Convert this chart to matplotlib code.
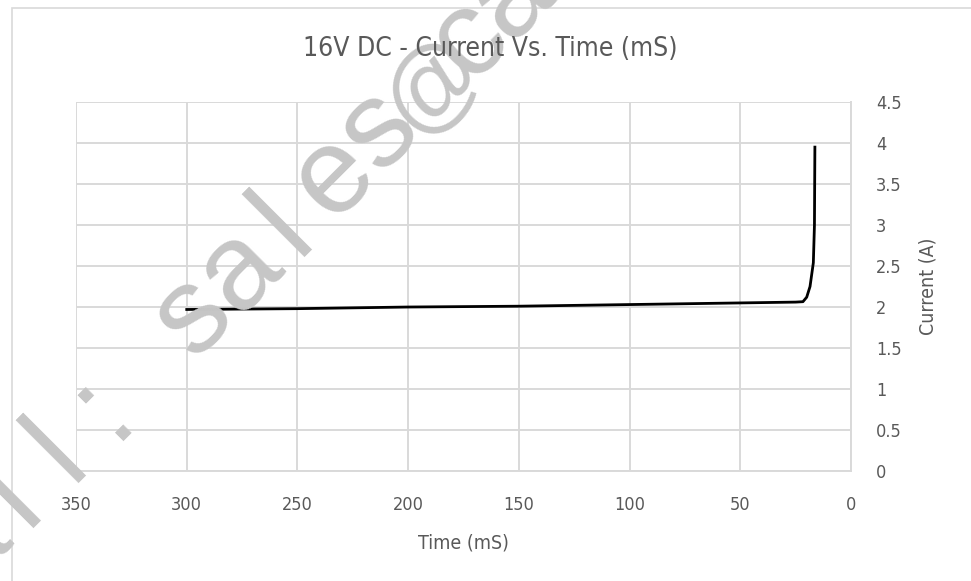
import numpy as np
import matplotlib.pyplot as plt
from matplotlib.patches import Rectangle

# time (mS) and current (A)
time_ms = [300, 250, 200, 150, 100, 50, 25, 21.7, 20, 18.5, 17.0, 16.5, 16.4, 16.3]
current_a = [1.97, 1.98, 2.0, 2.01, 2.03, 2.05, 2.06, 2.065, 2.12, 2.25, 2.54, 3.0, 3.5, 3.95]

x_ticks = [350, 300, 250, 200, 150, 100, 50, 0]
y_ticks = [0, 0.5, 1, 1.5, 2, 2.5, 3, 3.5, 4, 4.5]
y_tick_labels = ['0', '0.5', '1', '1.5', '2', '2.5', '3', '3.5', '4', '4.5']

plt.rcParams['font.family'] = ['DejaVu Sans']
plt.rcParams['font.stretch'] = 'condensed'
text_col = '#595959'
grid_col = '#d9d9d9'

fig = plt.figure(figsize=(9.71, 5.81), dpi=100)
ax = fig.add_axes([0.0783, 0.1893, 0.7981, 0.6351])

# outer chart border
fig.patches.append(Rectangle((12 / 971, -0.1), 1.2, (581 - 8) / 581 + 0.1,
                             transform=fig.transFigure, fill=False,
                             edgecolor=grid_col, linewidth=1.2))

ax.plot(time_ms, current_a, color='black', linewidth=2, zorder=3)

ax.set_xlim(350, 0)
ax.set_ylim(0, 4.5)
ax.set_xticks(x_ticks)
ax.set_yticks(y_ticks)
ax.set_yticklabels(y_tick_labels)
ax.yaxis.tick_right()
ax.yaxis.set_label_position('right')
ax.grid(True, color=grid_col, linewidth=1.4)
ax.set_axisbelow(True)
for s in ax.spines.values():
    s.set_visible(False)
for side in ['bottom', 'right']:
    ax.spines[side].set_visible(True)
    ax.spines[side].set_color(grid_col)
    ax.spines[side].set_linewidth(1.4)
ax.tick_params(length=0, labelsize=13, labelcolor=text_col)
ax.tick_params(axis='x', pad=18)
ax.tick_params(axis='y', pad=18)

ax.set_xlabel('Time (mS)', fontsize=14, color=text_col, labelpad=14)
ax.set_ylabel('Current (A)', fontsize=14, color=text_col, labelpad=12)
fig.text(490 / 971, 1 - 49 / 581, '16V DC - Current Vs. Time (mS)', fontsize=19,
         color=text_col, ha='center', va='center', zorder=5)

# watermark letters placed along a 45 degree baseline
wm_chars = list('Email: sales@ca')
wm_offsets = [-534, -470, -406, -342, -278, -215, -151,
              -87, -21, 42, 112, 176, 246, 304, 364]
for ch, p in zip(wm_chars, wm_offsets):
    px = (554 + p * np.sqrt(2)) / 2
    py = (554 - p * np.sqrt(2)) / 2
    fig.text(px / 971, 1 - py / 581, ch, rotation=45, rotation_mode='anchor',
             ha='center', va='baseline', color='#c6c6c6',
             fontsize=70 if ch == '@' else 88, zorder=1,
             family='Liberation Sans', stretch='normal')

fig.savefig('out.png', dpi=100)
